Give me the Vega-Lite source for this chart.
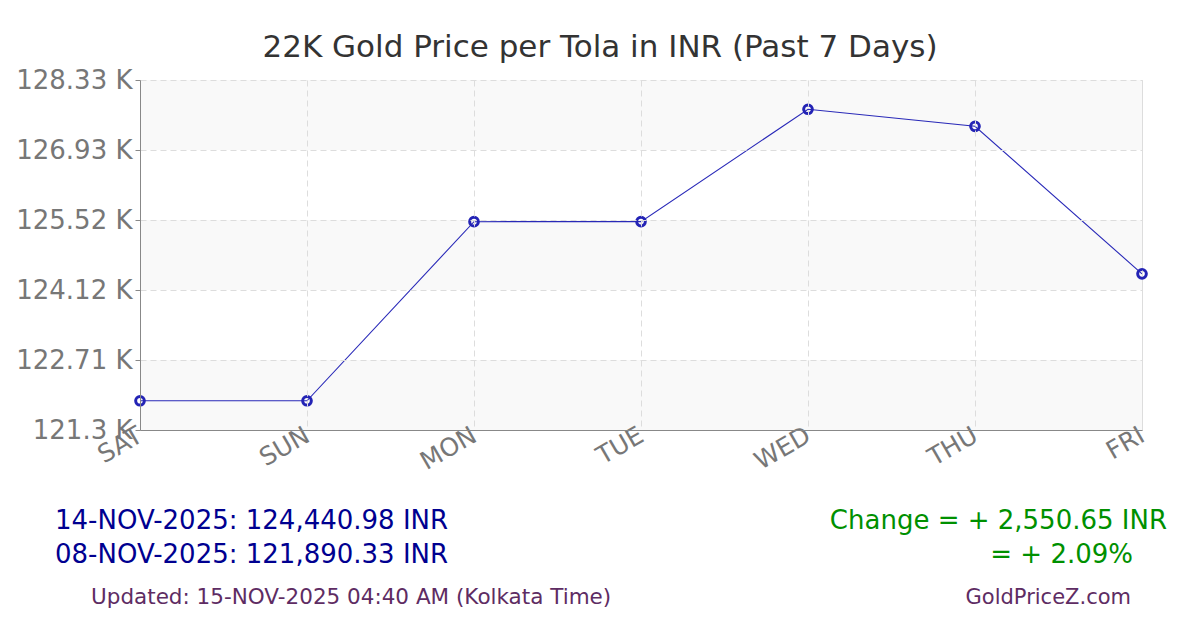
{
  "$schema": "https://vega.github.io/schema/vega-lite/v6.json",
  "width": 1002,
  "height": 350,
  "autosize": {"type": "none"},
  "padding": {"left": 140, "top": 80, "right": 58, "bottom": 200},
  "background": "white",
  "title": {
    "text": "22K Gold Price per Tola in INR (Past 7 Days)",
    "font": "DejaVu Sans",
    "fontSize": 31,
    "fontWeight": "normal",
    "color": "#333333",
    "anchor": "middle",
    "dx": -41,
    "offset": 3
  },
  "datasets": {
    "prices": [
      {"day": "SAT", "price": 121890.33},
      {"day": "SUN", "price": 121890.33},
      {"day": "MON", "price": 125488},
      {"day": "TUE", "price": 125490},
      {"day": "WED", "price": 127746},
      {"day": "THU", "price": 127404},
      {"day": "FRI", "price": 124440.98}
    ],
    "bands": [
      {"lo": 121303, "hi": 122709.3},
      {"lo": 124115.6, "hi": 125521.9},
      {"lo": 126928.2, "hi": 128334.5}
    ],
    "footer": [
      {"text": "14-NOV-2025: 124,440.98 INR", "col": "left", "line": "1", "kind": "price"},
      {"text": "08-NOV-2025: 121,890.33 INR", "col": "left", "line": "2", "kind": "price"},
      {"text": "Updated: 15-NOV-2025 04:40 AM (Kolkata Time)", "col": "left", "line": "3", "kind": "meta"},
      {"text": "Change = + 2,550.65 INR", "col": "right", "line": "1", "kind": "change"},
      {"text": "= + 2.09%", "col": "right", "line": "2", "kind": "change"},
      {"text": "GoldPriceZ.com", "col": "right", "line": "3", "kind": "meta"}
    ]
  },
  "layer": [
    {
      "layer": [
        {
          "data": {"name": "bands"},
          "mark": {"type": "rect", "color": "#f9f9f9"},
          "encoding": {
            "y": {"field": "lo", "type": "quantitative", "scale": {"domain": [121303, 128334.5], "nice": false, "zero": false}},
            "y2": {"field": "hi"}
          }
        },
        {
          "data": {"name": "prices"},
          "mark": {"type": "line", "color": "#2929b8", "strokeWidth": 1.1},
          "encoding": {
            "x": {
              "field": "day", "type": "ordinal", "sort": null,
              "scale": {"type": "point", "padding": 0},
              "axis": {
                "title": null,
                "zindex": 1,
                "labelAngle": -30,
                "labelAlign": "right",
                "labelBaseline": "middle",
                "labelFontSize": 25,
                "labelColor": "#777777",
                "labelPadding": 3,
                "ticks": false,
                "domainColor": "#888888",
                "grid": true,
                "gridColor": "#dddddd",
                "gridDash": [6, 4],
                "labelOverlap": false
              }
            },
            "y": {
              "field": "price", "type": "quantitative",
              "scale": {"domain": [121303, 128334.5], "nice": false, "zero": false},
              "axis": {
                "title": null,
                "zindex": 1,
                "values": [121303, 122709.3, 124115.6, 125521.9, 126928.2, 128334.5],
                "labelExpr": "format(datum.value / 1000, '.2~f') + ' K'",
                "labelFontSize": 26,
                "labelColor": "#777777",
                "labelPadding": 3,
                "tickSize": 5,
                "tickColor": "#888888",
                "domainColor": "#888888",
                "grid": true,
                "gridColor": "#dddddd",
                "gridDash": [6, 4],
                "labelOverlap": false
              }
            }
          }
        },
        {
          "data": {"name": "prices"},
          "mark": {"type": "point", "shape": "circle", "filled": false, "size": 75, "strokeWidth": 3, "color": "#2323b5", "opacity": 1},
          "encoding": {
            "x": {"field": "day", "type": "ordinal", "sort": null},
            "y": {"field": "price", "type": "quantitative"}
          }
        }
      ]
    },
    {
      "data": {"name": "footer"},
      "encoding": {
        "x": {"field": "col", "type": "nominal", "scale": {"type": "point", "domain": ["left", "right"], "range": [-85, 1027], "padding": 0}, "axis": null},
        "y": {"field": "line", "type": "ordinal", "scale": {"type": "point", "domain": ["1", "2", "3"], "range": [441, 509], "padding": 0}, "axis": null},
        "color": {"field": "kind", "type": "nominal", "scale": {"domain": ["price", "change", "meta"], "range": ["#000090", "#009000", "#5e2c63"]}, "legend": null},
        "text": {"field": "text"}
      },
      "layer": [
        {"transform": [{"filter": "datum.col == 'left' && datum.line != '3'"}], "mark": {"type": "text", "align": "left", "baseline": "middle", "fontSize": 26}},
        {"transform": [{"filter": "datum.col == 'left' && datum.line == '3'"}], "mark": {"type": "text", "align": "left", "baseline": "middle", "fontSize": 21.5, "dx": 36, "dy": 9}},
        {"transform": [{"filter": "datum.col == 'right' && datum.line == '1'"}], "mark": {"type": "text", "align": "right", "baseline": "middle", "fontSize": 26}},
        {"transform": [{"filter": "datum.col == 'right' && datum.line == '2'"}], "mark": {"type": "text", "align": "right", "baseline": "middle", "fontSize": 26, "dx": -34}},
        {"transform": [{"filter": "datum.col == 'right' && datum.line == '3'"}], "mark": {"type": "text", "align": "right", "baseline": "middle", "fontSize": 21, "dx": -36, "dy": 9}}
      ]
    }
  ],
  "resolve": {"scale": {"x": "independent", "y": "independent", "color": "independent"}},
  "config": {
    "font": "DejaVu Sans",
    "view": {"stroke": "#dddddd", "strokeWidth": 1},
    "axis": {"labelFont": "DejaVu Sans"},
    "text": {"font": "DejaVu Sans"}
  }
}
